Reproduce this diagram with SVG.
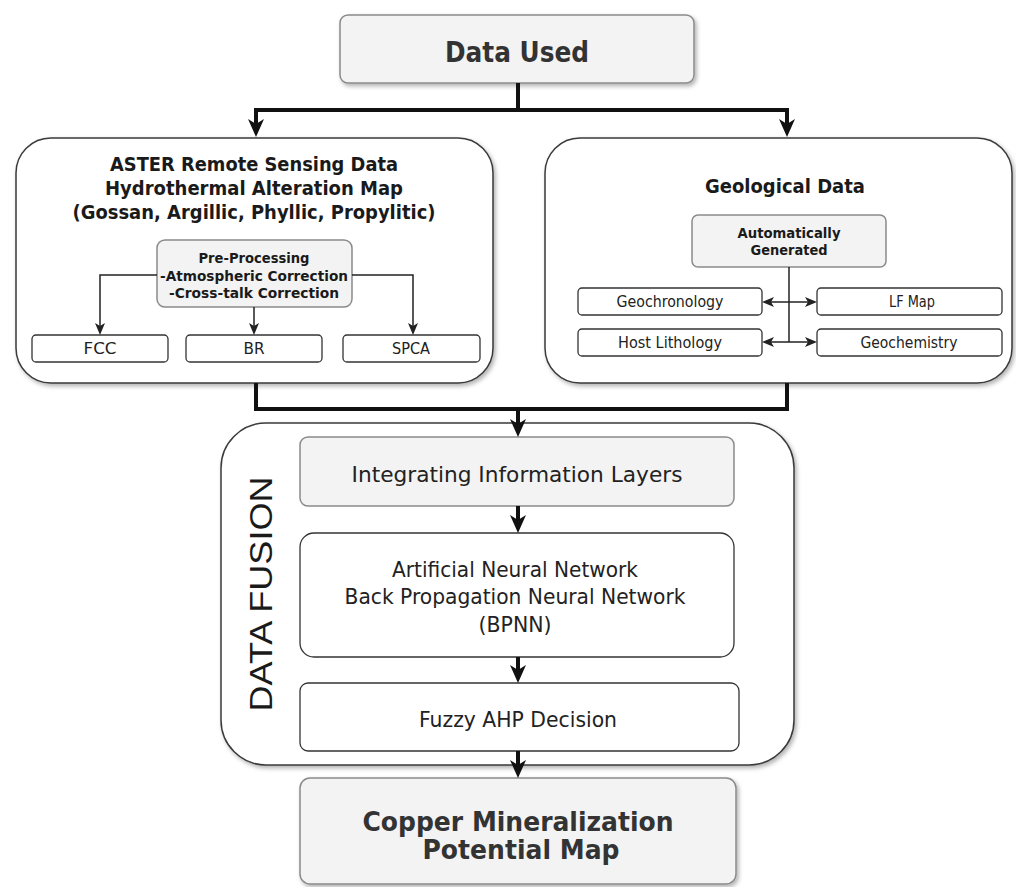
<svg xmlns="http://www.w3.org/2000/svg" width="1016" height="887" viewBox="0 0 1016 887">
  <style>
    .bg { fill: #ffffff; }
    .box { fill: #ffffff; stroke: #3a3a3a; stroke-width: 1.5; }
    .grey { fill: #f3f3f3; stroke: #8a8a8a; stroke-width: 1.5; }
    .small { fill: #ffffff; stroke: #333333; stroke-width: 1.3; }
    .shadow { filter: url(#drop); }
    .title { font-family: "DejaVu Sans", Verdana, sans-serif; font-weight: bold; fill: #1a1a1a; text-anchor: middle; }
    .head { font-family: "DejaVu Sans", Verdana, sans-serif; font-weight: bold; fill: #333333; text-anchor: middle; }
    .label { font-family: "DejaVu Sans", Verdana, sans-serif; fill: #222222; text-anchor: middle; }
    .side { font-family: "Liberation Sans", Arial, sans-serif; fill: #1a1a1a; text-anchor: middle; }
    .thick { fill: none; stroke: #111111; stroke-width: 4; }
    .thin { fill: none; stroke: #222222; stroke-width: 1.5; }
  </style>
  <defs>
    <filter id="drop" x="-10%" y="-10%" width="130%" height="140%">
      <feDropShadow dx="2" dy="2.5" stdDeviation="2" flood-color="#000000" flood-opacity="0.3"/>
    </filter>
    <marker id="bigArrow" markerUnits="userSpaceOnUse" markerWidth="18" markerHeight="18" viewBox="0 0 18 18" refX="5" refY="9" orient="auto-start-reverse">
      <path d="M0,1 L18,9 L0,17 L5,9 z" fill="#111111"/>
    </marker>
    <marker id="smallArrow" markerUnits="userSpaceOnUse" markerWidth="12" markerHeight="11" viewBox="0 0 12 11" refX="3" refY="5.5" orient="auto-start-reverse">
      <path d="M0,0.5 L12,5.5 L0,10.5 L3,5.5 z" fill="#222222"/>
    </marker>
  </defs>

  <rect class="bg" x="0" y="0" width="1016" height="887"/>

  <!-- top source box -->
  <g id="data-used">
    <rect class="grey shadow" x="340" y="15" width="354" height="68" rx="8"/>
    <text class="head" x="517" y="62" font-size="29" textLength="144" lengthAdjust="spacingAndGlyphs">Data Used</text>
  </g>

  <!-- remote sensing branch -->
  <g id="aster">
    <rect class="box shadow" x="16" y="138" width="477" height="245" rx="35"/>
    <text class="title" x="254" y="171" font-size="19" textLength="288" lengthAdjust="spacingAndGlyphs">ASTER Remote Sensing Data</text>
    <text class="title" x="254" y="195" font-size="19" textLength="298" lengthAdjust="spacingAndGlyphs">Hydrothermal Alteration Map</text>
    <text class="title" x="254" y="219" font-size="19" textLength="363" lengthAdjust="spacingAndGlyphs">(Gossan, Argillic, Phyllic, Propylitic)</text>
  </g>
  <g id="pre-processing">
    <rect class="grey" x="157" y="240" width="195" height="67" rx="8"/>
    <text class="title" x="254" y="263" font-size="14" textLength="111" lengthAdjust="spacingAndGlyphs">Pre-Processing</text>
    <text class="title" x="254" y="281" font-size="14" textLength="188" lengthAdjust="spacingAndGlyphs">-Atmospheric Correction</text>
    <text class="title" x="254" y="298" font-size="14" textLength="170" lengthAdjust="spacingAndGlyphs">-Cross-talk Correction</text>
  </g>
  <g id="fcc">
    <rect class="small" x="32" y="335" width="136" height="27" rx="4"/>
    <text class="label" x="100" y="354" font-size="15" textLength="33" lengthAdjust="spacingAndGlyphs">FCC</text>
  </g>
  <g id="br">
    <rect class="small" x="186" y="335" width="136" height="27" rx="4"/>
    <text class="label" x="254" y="354" font-size="15" textLength="21" lengthAdjust="spacingAndGlyphs">BR</text>
  </g>
  <g id="spca">
    <rect class="small" x="343" y="335" width="137" height="27" rx="4"/>
    <text class="label" x="411" y="354" font-size="15" textLength="38" lengthAdjust="spacingAndGlyphs">SPCA</text>
  </g>

  <!-- geological branch -->
  <g id="geological">
    <rect class="box shadow" x="545" y="138" width="467" height="245" rx="35"/>
    <text class="title" x="785" y="193" font-size="19" textLength="160" lengthAdjust="spacingAndGlyphs">Geological Data</text>
  </g>
  <g id="auto-generated">
    <rect class="grey" x="692" y="215" width="194" height="52" rx="6"/>
    <text class="title" x="789" y="238" font-size="14" textLength="103" lengthAdjust="spacingAndGlyphs">Automatically</text>
    <text class="title" x="789" y="255" font-size="14" textLength="77" lengthAdjust="spacingAndGlyphs">Generated</text>
  </g>
  <g id="geochronology">
    <rect class="small" x="578" y="288" width="184" height="27" rx="4"/>
    <text class="label" x="670" y="306.5" font-size="15" textLength="107" lengthAdjust="spacingAndGlyphs">Geochronology</text>
  </g>
  <g id="lf-map">
    <rect class="small" x="817" y="288" width="185" height="27" rx="4"/>
    <text class="label" x="912" y="306.5" font-size="15" textLength="46" lengthAdjust="spacingAndGlyphs">LF Map</text>
  </g>
  <g id="host-lithology">
    <rect class="small" x="578" y="329" width="184" height="27" rx="4"/>
    <text class="label" x="670" y="347.5" font-size="15" textLength="104" lengthAdjust="spacingAndGlyphs">Host Lithology</text>
  </g>
  <g id="geochemistry">
    <rect class="small" x="817" y="329" width="185" height="27" rx="4"/>
    <text class="label" x="909" y="347.5" font-size="15" textLength="97" lengthAdjust="spacingAndGlyphs">Geochemistry</text>
  </g>

  <!-- fusion stage -->
  <g id="data-fusion">
    <rect class="box shadow" x="221" y="423" width="573" height="342" rx="45"/>
    <text class="side" transform="translate(272,594) rotate(-90)" x="0" y="0" font-size="31" textLength="235" lengthAdjust="spacingAndGlyphs">DATA FUSION</text>
  </g>
  <g id="integrating">
    <rect class="grey" x="300" y="437" width="434" height="69" rx="8"/>
    <text class="label" x="517" y="482" font-size="22" textLength="331" lengthAdjust="spacingAndGlyphs" fill="#333333">Integrating Information Layers</text>
  </g>
  <g id="bpnn">
    <rect class="small" x="300" y="533" width="434" height="124" rx="14"/>
    <text class="label" x="515" y="577" font-size="21" textLength="246" lengthAdjust="spacingAndGlyphs">Artificial Neural Network</text>
    <text class="label" x="515" y="604" font-size="21" textLength="341" lengthAdjust="spacingAndGlyphs">Back Propagation Neural Network</text>
    <text class="label" x="515" y="632" font-size="21" textLength="73" lengthAdjust="spacingAndGlyphs">(BPNN)</text>
  </g>
  <g id="fuzzy-ahp">
    <rect class="small" x="300" y="683" width="439" height="68" rx="8"/>
    <text class="label" x="518" y="727" font-size="21" textLength="198" lengthAdjust="spacingAndGlyphs">Fuzzy AHP Decision</text>
  </g>

  <!-- result -->
  <g id="copper-map">
    <rect class="grey shadow" x="300" y="778" width="436" height="106" rx="10"/>
    <text class="head" x="518" y="831" font-size="27" textLength="311" lengthAdjust="spacingAndGlyphs">Copper Mineralization</text>
    <text class="head" x="521" y="859" font-size="27" textLength="197" lengthAdjust="spacingAndGlyphs">Potential Map</text>
  </g>

  <!-- connectors, drawn over the boxes -->
  <g id="connectors">
    <path class="thick" d="M518,83 V110"/>
    <path class="thick" d="M256,124 V110 H787 V124" marker-start="url(#bigArrow)" marker-end="url(#bigArrow)"/>
    <path class="thick" d="M256,383 V409 H787 V383"/>
    <path class="thick" d="M518,409 V424" marker-end="url(#bigArrow)"/>
    <path class="thick" d="M518,506 V520" marker-end="url(#bigArrow)"/>
    <path class="thick" d="M518,657 V670" marker-end="url(#bigArrow)"/>
    <path class="thick" d="M518,751 V765" marker-end="url(#bigArrow)"/>

    <path class="thin" d="M157,275 H100 V326" marker-end="url(#smallArrow)"/>
    <path class="thin" d="M352,275 H413 V326" marker-end="url(#smallArrow)"/>
    <path class="thin" d="M254,307 V326" marker-end="url(#smallArrow)"/>

    <path class="thin" d="M789,267 V342"/>
    <path class="thin" d="M771,302 H808" marker-start="url(#smallArrow)" marker-end="url(#smallArrow)"/>
    <path class="thin" d="M771,342 H808" marker-start="url(#smallArrow)" marker-end="url(#smallArrow)"/>
  </g>
</svg>
